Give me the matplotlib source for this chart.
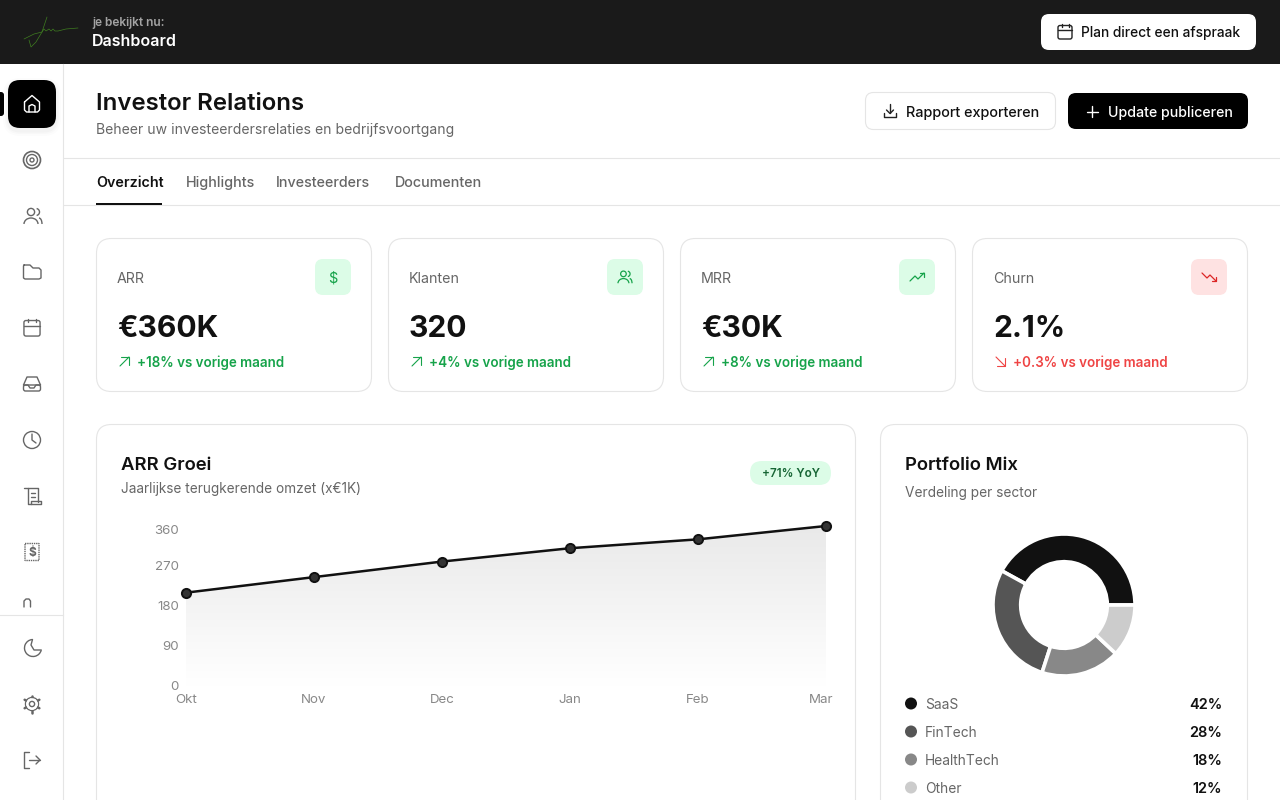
import numpy as np
from matplotlib import pyplot as plt
from matplotlib.colors import LinearSegmentedColormap
from matplotlib.patches import FancyBboxPatch, Circle, Arc, Polygon
from matplotlib.transforms import ScaledTranslation

plt.rcParams['font.family'] = ['Inter', 'DejaVu Sans']

# chart data
months = ['Okt', 'Nov', 'Dec', 'Jan', 'Feb', 'Mar']
arr_values = [210, 245, 280, 310, 330, 360]
y_ticks = [0, 90, 180, 270, 360]

sectors = ['SaaS', 'FinTech', 'HealthTech', 'Other']
sector_share = [42, 28, 18, 12]
sector_colors = ['#111111', '#555555', '#888888', '#cccccc']

kpi_names = ['ARR', 'Klanten', 'MRR', 'Churn']
kpi_values = ['€360K', '320', '€30K', '2.1%']
kpi_deltas = ['+18% vs vorige maand', '+4% vs vorige maand', '+8% vs vorige maand', '+0.3% vs vorige maand']
tabs = ['Overzicht', 'Highlights', 'Investeerders', 'Documenten']

W, H = 1280, 800
GREEN = '#16a34a'
RED = '#ef4444'
fig = plt.figure(figsize=(W / 100, H / 100), dpi=100, facecolor='white')
bg = fig.add_axes([0, 0, 1, 1])
bg.set_xlim(0, W)
bg.set_ylim(H, 0)
bg.axis('off')


def rrect(x0, y0, x1, y1, r, fc='white', ec='none', lw=0, z=2):
    bg.add_patch(FancyBboxPatch((x0, y0), x1 - x0, y1 - y0, boxstyle=f'round,pad=0,rounding_size={r}',
                                fc=fc, ec=ec, lw=lw, zorder=z))


# y is the middle of the capitals, so every label sits on a steady baseline
def txt(x, y, s, px, color='#111111', weight='normal', ha='left'):
    bg.text(x, y + 0.36 * px, s, fontsize=px * 0.72, color=color, fontweight=weight, ha=ha, va='baseline', zorder=5)


def line(pts, color='#666666', lw=1.0, z=4):
    xs, ys = zip(*pts)
    bg.plot(xs, ys, color=color, lw=lw, solid_capstyle='round', solid_joinstyle='round', zorder=z)


def circ(x, y, r, color='#666666', lw=1.0, fc='none'):
    bg.add_patch(Circle((x, y), r, fc=fc, ec=color, lw=lw, zorder=4))


def box(x0, y0, x1, y1, r, color='#666666', lw=1.0, ls='-'):
    bg.add_patch(FancyBboxPatch((x0, y0), x1 - x0, y1 - y0, boxstyle=f'round,pad=0,rounding_size={r}',
                                fc='none', ec=color, lw=lw, ls=ls, zorder=4))


def calendar(x, y, c, s=1.0):
    box(x - 7 * s, y - 6.5 * s, x + 7 * s, y + 7 * s, 2, c)
    line([(x - 7 * s, y - 2 * s), (x + 7 * s, y - 2 * s)], c)
    line([(x - 3.5 * s, y - 8 * s), (x - 3.5 * s, y - 5 * s)], c)
    line([(x + 3.5 * s, y - 8 * s), (x + 3.5 * s, y - 5 * s)], c)


def users(x, y, c, s=1.0, lw=1.0):
    bg.add_patch(Circle((x - 2 * s, y - 4 * s), 3.6 * s, fc='none', ec=c, lw=lw, zorder=4))
    bg.add_patch(Arc((x - 2 * s, y + 8 * s), 14 * s, 12 * s, theta1=180, theta2=360, ec=c, lw=lw, zorder=4))
    bg.add_patch(Arc((x + 3 * s, y - 4 * s), 7 * s, 7 * s, theta1=-80, theta2=80, ec=c, lw=lw, zorder=4))
    bg.add_patch(Arc((x + 6 * s, y + 8 * s), 6 * s, 12 * s, theta1=270, theta2=360, ec=c, lw=lw, zorder=4))


def trend_up(x, y, c):
    line([(x - 7, y + 4), (x - 2, y - 1), (x + 1, y + 2), (x + 7, y - 4)], c, 0.9)
    line([(x + 3, y - 4), (x + 7, y - 4), (x + 7, y)], c, 0.9)


def trend_down(x, y, c):
    line([(x - 7, y - 4), (x - 2, y + 1), (x + 1, y - 2), (x + 7, y + 4)], c, 0.9)
    line([(x + 3, y + 4), (x + 7, y + 4), (x + 7, y)], c, 0.9)


# top bar
bg.fill_between([0, W], 0, 64, color='#1a1a1a', lw=0, zorder=1)
sig = '#3f7d20'
line([(47, 17), (42, 32), (36, 42), (31, 47), (29, 40)], sig, 0.5)
line([(24, 39), (34, 34), (42, 32), (44, 29), (46, 31), (49, 29), (51, 31), (53, 29), (55, 31), (58, 31), (66, 29), (78, 28)], sig, 0.5)
txt(92, 21.5, 'je bekijkt nu:', 12, '#a3a3a3', 'semibold')
txt(92, 40, 'Dashboard', 16, 'white', 'semibold')
rrect(1041, 14, 1256, 50, 8)
calendar(1065, 32, '#222222')
txt(1081, 32.5, 'Plan direct een afspraak', 13.8, '#111111', 'medium')

# sidebar
bg.plot([63.1, 63.1], [64, H], color='#e5e5e5', lw=0.8, zorder=1)
bg.plot([0, 63], [615.0, 615.0], color='#e5e5e5', lw=0.8, zorder=1)
for off, alpha in [(5, 0.012), (3, 0.015), (1.5, 0.02)]:
    rrect(8 - off, 80 - off + 3, 56 + off, 128 + off + 3, 12 + off, fc=(0, 0, 0, alpha), z=1.5)
rrect(8, 80, 56, 128, 12, fc='black', z=2)
rrect(-4, 92, 4, 116, 3, fc='black', z=2)
# home
line([(24.5, 102), (32, 95.5), (39.5, 102), (39.5, 110), (37.5, 112), (26.5, 112), (24.5, 110), (24.5, 102)], 'white')
line([(29, 112), (29, 106), (32, 104.5), (35, 106), (35, 112)], 'white')
# target
circ(32, 160, 8.5, lw=1.2)
circ(32, 160, 5.5, lw=1.0)
circ(32, 160, 2, lw=1.0)
users(33, 216, '#666666', 1.0)
# folder
line([(24, 265), (30, 265), (33, 268), (39, 268), (41, 270), (41, 278), (39, 279), (25, 279), (23.5, 278), (23.5, 266), (24, 265)])
calendar(32, 328, '#666666', 1.15)
# inbox
line([(23.5, 385), (27, 377), (37, 377), (40.5, 385)])
box(23.5, 385, 40.5, 391, 2)
line([(23.5, 385), (28, 385), (30, 388), (34, 388), (36, 385), (40.5, 385)])
# clock
circ(32, 440, 8.5)
line([(32, 434), (32, 440), (36, 443)])
# scroll
line([(24, 488), (38, 488), (38, 502)])
line([(28, 488), (28, 504), (41, 504), (41, 501), (31, 501), (31, 504)])
line([(31, 493), (35, 493)])
line([(31, 497), (35, 497)])
# receipt
box(25, 543.5, 39, 560.5, 0, ls=(0, (1, 0.6)))
txt(32, 552, '$', 12, '#666666', 'bold', ha='center')
# clipped icon
line([(24, 607), (24, 601), (26, 599), (29, 599), (30.5, 601), (30.5, 607)])
# moon
bg.add_patch(Arc((33, 648), 17, 17, theta1=15, theta2=265, ec='#666666', lw=1.0, zorder=4))
line([(32.5, 639.5), (31, 645), (34, 650), (41.3, 650)])
# gear
ang = np.radians(np.arange(0, 360, 60) + 30)
for a in ang:
    line([(32 + 6.5 * np.cos(a), 704 + 6.5 * np.sin(a)), (32 + 8.5 * np.cos(a), 704 + 8.5 * np.sin(a))], lw=1.8)
circ(32, 704, 6.5)
bg.add_patch(Circle((32, 704), 5.8, fc='white', ec='none', zorder=4.5))
bg.add_patch(Circle((32, 704), 2.6, fc='none', ec='#666666', lw=1.0, zorder=4.6))
# logout
line([(29, 752), (24, 752), (24, 768), (29, 768)])
line([(29, 760), (40, 760)])
line([(36, 756), (40, 760), (36, 764)])

# page header
txt(96, 101, 'Investor Relations', 24, '#111111', 'semibold')
txt(96, 129, 'Beheer uw investeerdersrelaties en bedrijfsvoortgang', 14, '#666666')
rrect(865.5, 92.5, 1055.5, 129.5, 8, ec='#e5e5e5', lw=0.8)
line([(890, 104), (890, 113)], '#222222')
line([(886.5, 110), (890, 113.5), (893.5, 110)], '#222222')
line([(884, 113), (884, 117), (896, 117), (896, 113)], '#222222')
txt(906, 112, 'Rapport exporteren', 14.4, '#111111', 'medium')
rrect(1068, 93, 1248, 129, 8, fc='black')
line([(1092, 106), (1092, 117)], 'white')
line([(1086.5, 111.5), (1097.5, 111.5)], 'white')
txt(1108, 112, 'Update publiceren', 14.2, 'white', 'medium')

# tabs
bg.plot([64, W], [158.0, 158.0], color='#e5e5e5', lw=0.8, zorder=1)
bg.plot([64, W], [205.0, 205.0], color='#e5e5e5', lw=0.8, zorder=1)
tab_x = [96, 186, 276, 395]
for i, name in enumerate(tabs):
    txt(tab_x[i], 182, name, 14.3, '#111111' if i == 0 else '#666666', 'semibold' if i == 0 else 'medium')
bg.fill_between([96, 162], 203, 205, color='#111111', lw=0, zorder=3)

# kpi cards
for i, name in enumerate(kpi_names):
    x0 = 96 + i * 292
    c = RED if name == 'Churn' else GREEN
    rrect(x0 + 0.5, 238.5, x0 + 275.5, 391.5, 15, ec='#e5e5e5', lw=0.8)
    txt(x0 + 21, 278, name, 14.2, '#666666')
    txt(x0 + 21, 326, kpi_values[i], 30, '#111111', 'bold')
    rrect(x0 + 219, 259, x0 + 255, 295, 8, fc='#fee2e2' if name == 'Churn' else '#dcfce7', z=3)
    ix, iy = x0 + 237, 277
    if name == 'ARR':
        txt(ix, iy, '$', 14.5, c, 'normal', ha='center')
    elif name == 'Klanten':
        users(ix, iy, c, 0.78, 0.9)
    elif name == 'MRR':
        trend_up(ix, iy, c)
    else:
        trend_down(ix, iy, '#dc2626')
    ax0, ay0 = x0 + 24, 357
    if name == 'Churn':
        line([(ax0, ay0), (ax0 + 9, ay0 + 9)], c, 0.8)
        line([(ax0 + 1, ay0 + 9), (ax0 + 9, ay0 + 9), (ax0 + 9, ay0 + 1)], c, 0.8)
    else:
        line([(ax0, ay0 + 9), (ax0 + 9, ay0)], c, 0.8)
        line([(ax0 + 1, ay0), (ax0 + 9, ay0), (ax0 + 9, ay0 + 8)], c, 0.8)
    txt(x0 + 41, 362, kpi_deltas[i], 13.4, c, 'semibold')

# lower cards
rrect(96.5, 424.5, 855.5, 860, 15, ec='#e5e5e5', lw=0.8)
rrect(880.5, 424.5, 1247.5, 860, 15, ec='#e5e5e5', lw=0.8)
txt(121, 463, 'ARR Groei', 18.5, '#111111', 'semibold')
txt(121, 488, 'Jaarlijkse terugkerende omzet (x€1K)', 13.6, '#666666')
rrect(750, 461, 831, 485, 12, fc='#dcfce7', z=3)
txt(790.5, 473, '+71% YoY', 11.7, '#166534', 'semibold', ha='center')
txt(905, 463, 'Portfolio Mix', 18.5, '#111111', 'semibold')
txt(905, 492, 'Verdeling per sector', 13.7, '#666666')

# line chart
ax = fig.add_axes([186 / W, 1 - 686 / H, 640 / W, 160 / H])
ax.patch.set_alpha(0)
x = np.arange(len(months))
grad = np.linspace(0, 1, 256).reshape(-1, 1)
cmap = LinearSegmentedColormap.from_list('fade', ['#e9e9e9', '#ffffff'])
im = ax.imshow(grad, extent=[x[0], x[-1], 0, max(y_ticks)], aspect='auto', cmap=cmap, zorder=1)
clip = Polygon(list(zip(x, arr_values)) + [(x[-1], 0), (x[0], 0)], transform=ax.transData, fc='none', ec='none')
ax.add_patch(clip)
im.set_clip_path(clip)
ax.plot(x, arr_values, color='#111111', lw=1.8, marker='o', ms=6.6, mfc='#333333', mec='#111111', mew=1.4,
        clip_on=False, zorder=3)
ax.set_xlim(x[0], x[-1])
ax.set_ylim(0, max(y_ticks))
ax.set_xticks(x, months)
ax.set_yticks(y_ticks, [str(v) for v in y_ticks])
ax.tick_params(length=0, labelsize=9.6, labelcolor='#888888', pad=5)
ax.tick_params(axis='x', pad=6)
for s in ax.spines.values():
    s.set_visible(False)
for lab in ax.get_xticklabels():
    if lab.get_text() == 'Mar':
        lab.set_transform(lab.get_transform() + ScaledTranslation(-5 / 100, 0, fig.dpi_scale_trans))
for lab in ax.get_yticklabels():
    if lab.get_text() == '360':
        lab.set_transform(lab.get_transform() + ScaledTranslation(0, -4 / 100, fig.dpi_scale_trans))

# donut
pie_ax = fig.add_axes([(1064 - 71) / W, 1 - (605 + 71) / H, 142 / W, 142 / H])
pie_ax.pie(sector_share, colors=sector_colors, startangle=0, counterclock=True,
           wedgeprops=dict(width=0.39, edgecolor='white', linewidth=2.6))
pie_ax.set_xlim(-1, 1)
pie_ax.set_ylim(-1, 1)

# legend
for i, name in enumerate(sectors):
    y = 703.5 + i * 28
    bg.add_patch(Circle((911, y), 6, fc=sector_colors[i], ec='none', zorder=4))
    txt(925, y + 0.5, name, 13.8, '#666666')
    txt(1222, y + 0.5, f'{sector_share[i]}%', 14.5, '#111111', 'semibold', ha='right')

fig.savefig('out.png', dpi=100)
